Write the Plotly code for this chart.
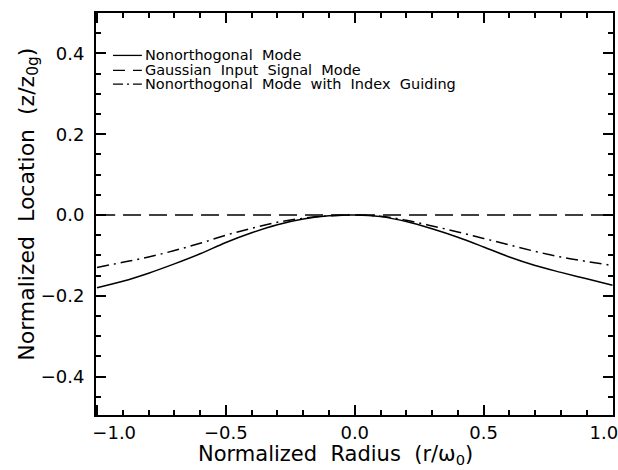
import plotly.graph_objects as go

r = [-1.0, -0.9, -0.8, -0.7, -0.6, -0.5, -0.4, -0.3, -0.2, -0.1, 0.0,
     0.1, 0.2, 0.3, 0.4, 0.5, 0.6, 0.7, 0.8, 0.9, 1.0]
nonorth = [-0.180, -0.164, -0.144, -0.121, -0.096, -0.068, -0.044, -0.024, -0.010, -0.002, 0.0,
           -0.004, -0.016, -0.034, -0.055, -0.079, -0.104, -0.125, -0.142, -0.158, -0.174]
gauss = [0.0] * len(r)
index_guid = [-0.130, -0.117, -0.104, -0.088, -0.070, -0.050, -0.033, -0.018, -0.008, -0.002, 0.0,
              -0.003, -0.013, -0.027, -0.042, -0.058, -0.074, -0.090, -0.104, -0.115, -0.125]

x_tickvals = [-1.0, -0.5, 0.0, 0.5, 1.0]
x_ticktext = ["−1.0", "−0.5", "0.0", "0.5", "1.0"]

names = ["Nonorthogonal Mode", "Gaussian Input Signal Mode",
         "Nonorthogonal Mode with Index Guiding"]
dashes = ["solid", "18px,8px", "12px,5px,2px,5px"]
series = [nonorth, gauss, index_guid]

NB = "\u00a0"
def spaced(s):
    return s.replace(" ", " " + NB)

# end labels nudged inward like the reference
x_ticklabels = list(x_ticktext)
x_ticklabels[0] = NB * 6 + x_ticklabels[0]
x_ticklabels[-1] = x_ticklabels[-1] + NB * 3

FONT = "DejaVu Sans"
fig = go.Figure()
for name, ys, d in zip(names, series, dashes):
    fig.add_trace(go.Scatter(x=r, y=ys, mode="lines", name=name,
                             line=dict(color="black", width=1.5, dash=d, shape="spline", smoothing=1.0),
                             showlegend=False))

# custom legend
leg_y = [0.395, 0.358, 0.324]
leg_dash = ["solid", "12px,8px", "10px,4px,2px,4px"]
for name, yy, d in zip(names, leg_y, leg_dash):
    fig.add_shape(type="line", x0=-0.938, x1=-0.826, y0=yy, y1=yy, xref="x", yref="y",
                  line=dict(color="black", width=1.3, dash=d))
    fig.add_annotation(x=-0.822, y=yy, xref="x", yref="y", text=spaced(name), showarrow=False,
                       xanchor="left", yanchor="middle", font=dict(family=FONT, size=14.5, color="black"))

# axis titles
fig.add_annotation(x=0.464, y=-0.10, xref="paper", yref="paper",
                   text=spaced("Normalized Radius (r/ω<sub>0</sub>)"), showarrow=False,
                   xanchor="center", yanchor="middle", font=dict(family=FONT, size=21, color="black"))
fig.add_annotation(x=-0.13, y=0.525, xref="paper", yref="paper", textangle=-90,
                   text=spaced("Normalized Location (z/z<sub>0g</sub>)"), showarrow=False,
                   xanchor="center", yanchor="middle", font=dict(family=FONT, size=22, color="black"))

axis_common = dict(showline=True, linecolor="black", linewidth=2, mirror="allticks",
                   ticks="inside", ticklen=10, tickwidth=1.5, tickcolor="black",
                   showgrid=False, zeroline=False, ticklabeloverflow="allow",
                   tickfont=dict(family=FONT, size=18, color="black"))

fig.update_xaxes(range=[-1.004, 1.002], tickmode="array", tickvals=x_tickvals, ticktext=x_ticklabels,
                 minor=dict(tickmode="linear", tick0=0, dtick=0.1, ticklen=5, tickwidth=1.5,
                            tickcolor="black", ticks="inside"),
                 **axis_common)
fig.update_yaxes(range=[-0.495, 0.5], tick0=0, dtick=0.2, tickformat=".1f",
                 minor=dict(dtick=0.05, ticklen=5, tickwidth=1.5, tickcolor="black", ticks="inside"),
                 ticklabelstandoff=6,
                 **axis_common)

fig.update_layout(width=618, height=470, margin=dict(l=96, r=5, t=13, b=55, autoexpand=False),
                  plot_bgcolor="white", paper_bgcolor="white",
                  font=dict(family=FONT, color="black"))

fig.write_html("out.html")
